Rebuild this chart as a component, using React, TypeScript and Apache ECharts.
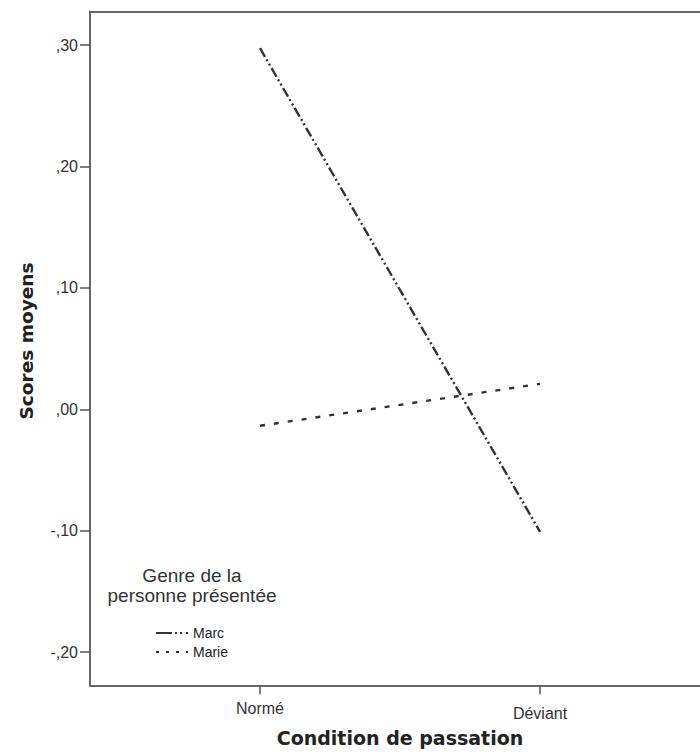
import React, { useEffect, useRef } from 'react';
import * as echarts from 'echarts';

const categories = ['Normé', 'Déviant'];
const seriesNames = ['Marc', 'Marie'];
const marcValues = [0.2975, -0.1008];
const marieValues = [-0.0135, 0.021];
const yTicks = [-0.2, -0.1, 0, 0.1, 0.2, 0.3];
const xTicks = [0, 1];
const xTitle = 'Condition de passation';
const yTitle = 'Scores moyens';
const legendTitle = 'Genre de la\npersonne présentée';

function fmtY(v: number): string {
  const r = Math.round(v * 100);
  if (r % 10 !== 0) return '';
  const a = Math.abs(v).toFixed(2).replace('.', ',').replace(/^0/, '');
  return (v < -1e-9 ? '-' : '') + a;
}

const SANS = '"Liberation Sans", Arial, sans-serif';
const BOLD = '"DejaVu Sans", Verdana, sans-serif';
const X_MIN = -0.6071;
const X_MAX = 1.5714;
const AXIS_LINE = { color: '#666', width: 2 };

export default function App() {
  const ref = useRef<HTMLDivElement>(null);
  useEffect(() => {
    if (!ref.current) return;
    const chart = echarts.init(ref.current, undefined, { renderer: 'svg' });
    const marcStyle = { color: '#333', width: 2.4, type: [10, 3, 2, 3, 2, 3] as number[] };
    const marieStyle = { color: '#333', width: 2.4, type: [5, 9] as number[] };
    chart.setOption({
      animation: false,
      backgroundColor: '#fff',
      grid: {
        left: 90, top: 11.5, right: 0, height: 674,
        show: false,
      },
      xAxis: [
        {
          type: 'value', min: X_MIN, max: X_MAX, position: 'bottom',
          name: xTitle, nameLocation: 'middle', nameGap: 43,
          nameTextStyle: { fontFamily: BOLD, fontWeight: 'bold', fontSize: 19, color: '#222', padding: [0, 0, 0, 10] },
          splitLine: { show: false },
          axisLine: { show: true, onZero: false, lineStyle: AXIS_LINE },
          axisTick: { show: true, customValues: xTicks, length: 9, lineStyle: { color: '#555', width: 1.5 } },
          axisLabel: {
            customValues: xTicks,
            margin: 14,
            fontFamily: SANS, fontSize: 16, color: '#333',
            formatter: (v: number) => {
              const i = Math.round(v);
              if (Math.abs(v - i) > 1e-6 || !categories[i]) return '';
              return i === 0 ? '{a|' + categories[i] + '}' : '{b|' + categories[i] + '}';
            },
            rich: {
              a: { fontFamily: SANS, fontSize: 16, color: '#333', lineHeight: 18 },
              b: { fontFamily: SANS, fontSize: 16, color: '#333', lineHeight: 28 },
            },
          },
        },
        {
          type: 'value', min: X_MIN, max: X_MAX, position: 'top',
          splitLine: { show: false },
          axisLine: { show: true, onZero: false, lineStyle: AXIS_LINE },
          axisTick: { show: false },
          axisLabel: { show: false },
        },
      ],
      yAxis: {
        type: 'value', min: -0.2274, max: 0.3277,
        splitLine: { show: false },
        axisLine: { show: true, onZero: false, lineStyle: AXIS_LINE },
        axisTick: { show: true, customValues: yTicks, length: 10, lineStyle: { color: '#555', width: 1.5 } },
        axisLabel: {
          customValues: yTicks,
          margin: 12,
          fontFamily: SANS, fontSize: 16, color: '#333',
          formatter: (v: number) => fmtY(v),
        },
      },
      legend: {
        orient: 'vertical', left: 150, top: 621,
        itemWidth: 32, itemHeight: 14, itemGap: 5,
        itemStyle: { opacity: 0 },
        textStyle: { fontFamily: SANS, fontSize: 14, color: '#222' },
        data: [
          { name: seriesNames[0], lineStyle: { type: [16, 3, 2, 3, 2, 4] } },
          { name: seriesNames[1], lineStyle: { type: [3, 7] } },
        ],
      },
      graphic: [
        {
          type: 'text', x: 192, y: 565,
          style: {
            text: legendTitle, fontFamily: SANS, fontSize: 19, lineHeight: 20,
            fill: '#333', align: 'center', verticalAlign: 'top',
          },
        },
        {
          type: 'text', x: 26, y: 341, rotation: Math.PI / 2,
          style: {
            text: yTitle, fontFamily: BOLD, fontWeight: 'bold', fontSize: 18.5,
            fill: '#222', align: 'center', verticalAlign: 'middle',
          },
        },
      ],
      series: [
        {
          name: seriesNames[0], type: 'line', symbol: 'none', showSymbol: false,
          xAxisIndex: 0,
          lineStyle: marcStyle, itemStyle: { color: '#333' },
          data: categories.map((_, i) => [i, marcValues[i]]),
        },
        {
          name: seriesNames[1], type: 'line', symbol: 'none', showSymbol: false,
          xAxisIndex: 0,
          lineStyle: marieStyle, itemStyle: { color: '#333' },
          data: categories.map((_, i) => [i, marieValues[i]]),
        },
      ],
    });
    return () => chart.dispose();
  }, []);
  return <div ref={ref} style={{ position: 'absolute', left: 0, top: 0, width: 700, height: 755 }} />;
}
